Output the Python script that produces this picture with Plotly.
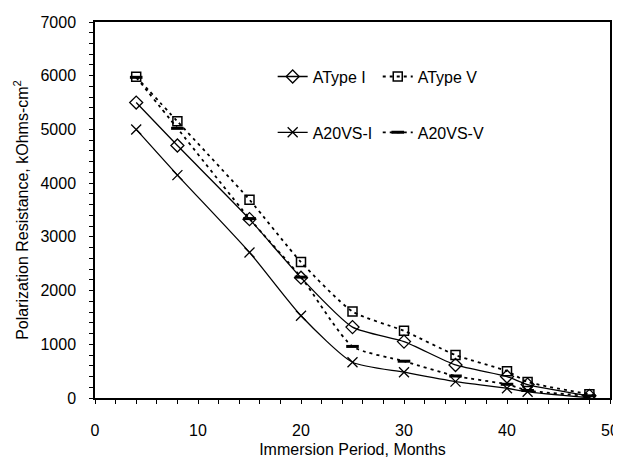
import plotly.graph_objects as go

months = [4, 8, 15, 20, 25, 30, 35, 40, 42, 48]
atype_i = [5500, 4700, 3330, 2240, 1320, 1050, 615, 400, 250, 40]
atype_v = [5980, 5150, 3690, 2530, 1610, 1250, 800, 500, 300, 70]
a20vs_i = [5000, 4150, 2710, 1530, 665, 480, 305, 180, 115, 5]
a20vs_v = [5970, 5020, 3340, 2250, 960, 685, 410, 255, 140, 40]

FONT = "Liberation Sans, Arial, sans-serif"
FS = 16
DOT = "3px,4px"

fig = go.Figure()
fig.add_trace(go.Scatter(
    x=months, y=atype_i, name="AType I", mode="lines+markers",
    line=dict(color="black", width=1.3, shape="spline", smoothing=0.6),
    marker=dict(symbol="diamond-open", size=10, color="black", line=dict(width=1.3)),
    legend="legend", legendgroup="a"))
fig.add_trace(go.Scatter(
    x=months, y=a20vs_i, name="A20VS-I", mode="lines+markers",
    line=dict(color="black", width=1.3, shape="spline", smoothing=0.6),
    marker=dict(symbol="x-thin", size=10, color="black", line=dict(width=1.3, color="black")),
    legend="legend", legendgroup="b"))
fig.add_trace(go.Scatter(
    x=months, y=atype_v, name="AType V", mode="lines+markers",
    line=dict(color="black", width=1.8, dash=DOT, shape="spline", smoothing=0.6),
    marker=dict(symbol="square-open", size=9, color="black", line=dict(width=1.5)),
    legend="legend2", legendgroup="c"))
fig.add_trace(go.Scatter(
    x=months, y=a20vs_v, name="A20VS-V", mode="lines+markers",
    line=dict(color="black", width=1.8, dash=DOT, shape="spline", smoothing=0.6),
    marker=dict(symbol="line-ew", size=9, color="black", line=dict(width=3, color="black")),
    legend="legend2", legendgroup="d"))

axis_common = dict(
    showline=True, linecolor="black", linewidth=1.5, mirror=True,
    ticks="outside", ticklen=4, tickwidth=1, tickcolor="black",
    showgrid=False, zeroline=False, automargin=False,
    tickfont=dict(family=FONT, size=FS, color="black"),
)

fig.update_layout(
    width=621, height=459,
    margin=dict(l=87, r=19, t=14, b=69),
    paper_bgcolor="white", plot_bgcolor="white",
    font=dict(family=FONT, size=FS, color="black"),
    xaxis=dict(range=[0, 50], dtick=10, ticklabelstandoff=13,
               minor=dict(dtick=2, ticks="outside", ticklen=4, tickcolor="black"),
               title=dict(text="Immersion Period, Months", standoff=6,
                          font=dict(family=FONT, size=FS, color="black")),
               **axis_common),
    yaxis=dict(range=[0, 7000], dtick=1000, ticklabelstandoff=10,
               minor=dict(dtick=200, ticks="outside", ticklen=4, tickcolor="black"),
               title=dict(text="Polarization Resistance, kOhms-cm<sup>2</sup>", standoff=8,
                          font=dict(family=FONT, size=FS, color="black")),
               **axis_common),
    legend=dict(x=0.345, y=0.900, xanchor="left", yanchor="top", bgcolor="rgba(0,0,0,0)",
                tracegroupgap=32, traceorder="grouped",
                font=dict(family=FONT, size=FS, color="black")),
    legend2=dict(x=0.549, y=0.900, xanchor="left", yanchor="top", bgcolor="rgba(0,0,0,0)",
                 tracegroupgap=32, traceorder="grouped",
                 font=dict(family=FONT, size=FS, color="black")),
)

fig.write_html("out.html")
